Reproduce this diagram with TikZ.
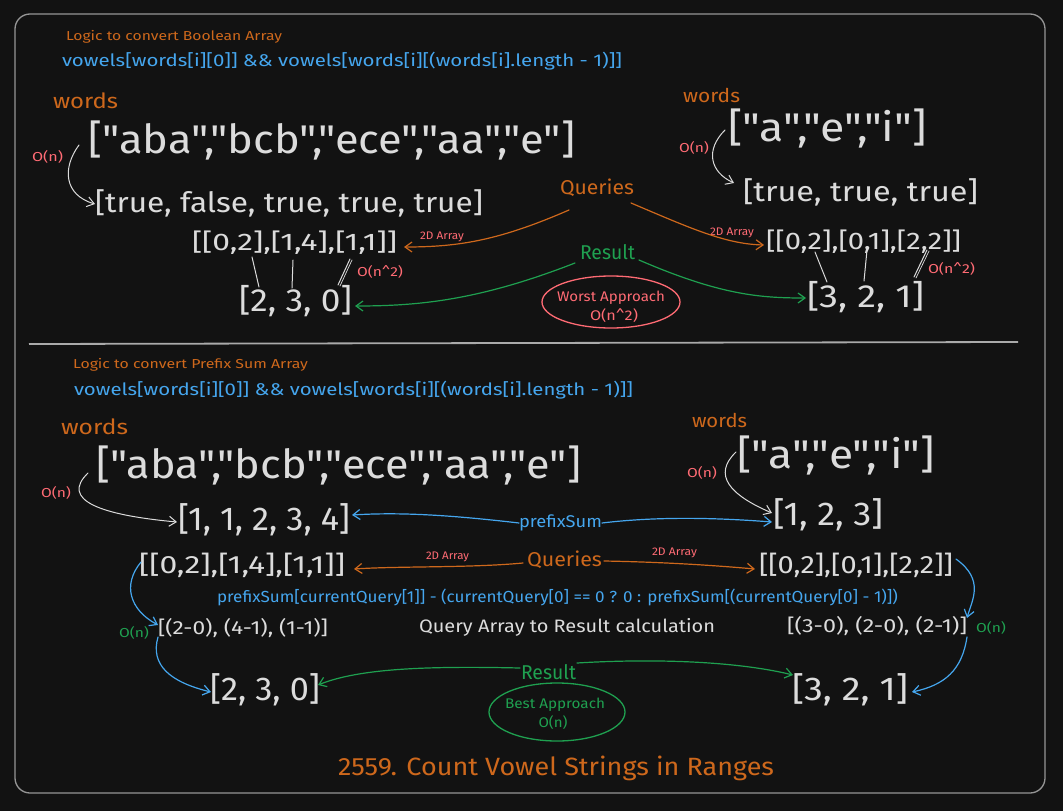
\documentclass[tikz,border=0pt]{standalone}
\usepackage{fontspec}
\setmainfont{Fira Sans}
\newfontfamily\hf{Fira Sans}
\usetikzlibrary{arrows.meta,calc,shapes.geometric}
\definecolor{bg}{HTML}{121212}
\definecolor{wt}{HTML}{DCDCDC}
\definecolor{org}{HTML}{CE681C}
\definecolor{blu}{HTML}{45A6EE}
\definecolor{grn}{HTML}{1FA050}
\definecolor{pnk}{HTML}{FF6B74}
\definecolor{frm}{HTML}{959595}
\newcommand\ftext[3]{\resizebox{#2pt}{\height}{\hf\fontsize{#1}{#1}\selectfont #3}}
\tikzset{
  lbl/.style={inner sep=0pt, outer sep=0pt, anchor=west},
  wtx/.style={lbl, text=wt},
  otx/.style={lbl, text=org},
  btx/.style={lbl, text=blu},
  gtx/.style={lbl, text=grn},
  ptx/.style={lbl, text=pnk},
  arr/.style={-{Straight Barb[length=7pt,width=10pt]}, line width=1.2pt, line cap=round},
  maplink/.style={draw=wt, line width=1pt, line cap=round},
}
\begin{document}
\begin{tikzpicture}[x=1pt,y=-1pt]
\fill[bg] (0,0) rectangle (1063,811);
\useasboundingbox (0,0) rectangle (1063,811);
% frame and divider
\draw[frm, line width=1.3pt, rounded corners=15pt] (15,14) rectangle (1045,793);
\coordinate (divL) at (29,344);
\coordinate (divR) at (1018,342);
\draw[frm!80, line width=1.8pt] (divL) -- (divR);

% ---------- top half ----------
\node[otx] (logicA) at (66,37) {\ftext{13}{216}{Logic to convert Boolean Array}};
\node[btx] (vowA) at (62,61) {\ftext{17}{560}{vowels[words[i][0]] \&\& vowels[words[i][(words[i].length - 1)]]}};
\node[otx] (wordsA) at (53,101) {\ftext{21}{65}{words}};
\node[wtx] (arrA) at (88,140) {\ftext{40}{487}{["aba","bcb","ece","aa","e"]}};
\node[ptx] (onA) at (32,157) {\ftext{13}{31}{O(n)}};
\node[wtx] (tfA) at (95,203) {\ftext{28}{388}{[true, false, true, true, true]}};
\node[otx] (queA) at (560,188) {\ftext{20}{74}{Queries}};
\node[wtx] (qlA) at (192,243) {\ftext{24}{205}{[[0,2],[1,4],[1,1]]}};
\node[ptx] (daA) at (420,237) {\ftext{11}{44}{2D Array}};
\node[gtx] (resA) at (580,252) {\ftext{20}{55}{Result}};
\node[wtx] (rA) at (239,301) {\ftext{32}{113}{[2, 3, 0]}};
\node[ptx] (onsqA) at (357,272) {\ftext{13}{46}{O(n\textasciicircum 2)}};
\node[draw=pnk, line width=1.3pt, ellipse, minimum width=138pt, minimum height=52pt, inner sep=0pt] (worst) at (611,302) {};
\node[text=pnk, inner sep=0pt] (worstA) at (611,298) {\ftext{14}{108}{Worst Approach}};
\node[text=pnk, inner sep=0pt] (worstB) at (614,316) {\ftext{14}{48}{O(n\textasciicircum 2)}};

\node[otx] (wordsB) at (683,95) {\ftext{19}{57}{words}};
\node[wtx] (arrB) at (728,128) {\ftext{40}{199}{["a","e","i"]}};
\node[ptx] (onB) at (679,148) {\ftext{13}{30}{O(n)}};
\node[wtx] (tfB) at (743,192) {\ftext{28}{235}{[true, true, true]}};
\node[ptx] (daB) at (710,233) {\ftext{11}{44}{2D Array}};
\node[wtx] (qlB) at (766,242) {\ftext{24}{195}{[[0,2],[0,1],[2,2]]}};
\node[ptx] (onsqB) at (928,269) {\ftext{13}{47}{O(n\textasciicircum 2)}};
\node[wtx] (rB) at (807,297) {\ftext{32}{117}{[3, 2, 1]}};

% top connectors
\coordinate (sA) at (79,145);
\draw[arr, wt, line width=1pt] (sA) .. controls (62,168) and (64,195) .. ($(tfA.west)+(0,1)$);
\coordinate (sB) at (725,130);
\draw[arr, wt, line width=1pt] (sB) .. controls (705,150) and (710,172) .. ($(tfB.west)+(-9,-9)$);
\coordinate (qAl) at (569,210);
\draw[arr, org] (qAl) .. controls (500,240) and (460,247) .. ($(qlA.east)+(7,4)$);
\coordinate (qAr) at (631,203);
\draw[arr, org] (qAr) .. controls (690,228) and (725,244) .. ($(qlB.west)+(-2,3)$);
\coordinate (rAl) at (575,263);
\draw[arr, grn] (rAl) .. controls (480,300) and (420,306) .. ($(rA.east)+(3,5)$);
\coordinate (rAr) at (639,260);
\draw[arr, grn] (rAr) .. controls (720,295) and (760,298) .. ($(rB.west)+(-1,1)$);
% mapping lines top
\coordinate (m1a) at (252,257); \coordinate (m1b) at (259,287);
\coordinate (m2a) at (293,260); \coordinate (m2b) at (292,288);
\coordinate (m3a) at (350,259); \coordinate (m3b) at (338,285);
\draw[maplink] (m1a) -- (m1b);
\draw[maplink] (m2a) -- (m2b);
\draw[maplink] (m3a) -- (m3b);
\draw[maplink, line width=0.7pt] ($(m3a)+(2,1)$) -- ($(m3b)+(2,1)$);
\coordinate (m4a) at (815,252); \coordinate (m4b) at (827,282);
\coordinate (m5a) at (867,250); \coordinate (m5b) at (864,281);
\coordinate (m6a) at (927,250); \coordinate (m6b) at (914,277);
\draw[maplink] (m4a) -- (m4b);
\draw[maplink] (m5a) -- (m5b);
\draw[maplink] (m6a) -- (m6b);
\draw[maplink, line width=0.7pt] ($(m6a)+(2,1)$) -- ($(m6b)+(2,1)$);

% ---------- bottom half ----------
\node[otx] (logicB) at (73,365) {\ftext{13}{235}{Logic to convert Prefix Sum Array}};
\node[btx] (vowB) at (74,390) {\ftext{17}{559}{vowels[words[i][0]] \&\& vowels[words[i][(words[i].length - 1)]]}};
\node[otx] (wordsC) at (61,427) {\ftext{21}{67}{words}};
\node[wtx] (arrC) at (96,465) {\ftext{40}{485}{["aba","bcb","ece","aa","e"]}};
\node[ptx] (onC) at (41,493) {\ftext{13}{30}{O(n)}};
\node[wtx] (psA) at (178,520) {\ftext{33}{172}{[1, 1, 2, 3, 4]}};
\node[btx] (psl) at (519,523) {\ftext{17}{83}{prefixSum}};
\node[otx] (wordsD) at (692,420) {\ftext{19}{55}{words}};
\node[wtx] (arrD) at (737,455) {\ftext{40}{198}{["a","e","i"]}};
\node[ptx] (onD) at (687,473) {\ftext{13}{30}{O(n)}};
\node[wtx] (psB) at (773,515) {\ftext{33}{110}{[1, 2, 3]}};
\node[wtx] (qlC) at (139,565) {\ftext{25}{206}{[[0,2],[1,4],[1,1]]}};
\node[ptx] (daC) at (426,557) {\ftext{11}{43}{2D Array}};
\node[otx] (queB) at (527,560) {\ftext{20}{75}{Queries}};
\node[ptx] (daD) at (652,553) {\ftext{11}{45}{2D Array}};
\node[wtx] (qlD) at (759,565) {\ftext{25}{194}{[[0,2],[0,1],[2,2]]}};
\node[btx] (formula) at (217,597) {\ftext{16}{681}{prefixSum[currentQuery[1]] - (currentQuery[0] == 0 ? 0 : prefixSum[(currentQuery[0] - 1)])}};
\node[wtx] (calcA) at (158,628) {\ftext{19}{170}{[(2-0), (4-1), (1-1)]}};
\node[gtx] (onE) at (119,633) {\ftext{13}{30}{O(n)}};
\node[wtx] (qtext) at (419,627) {\ftext{18}{296}{Query Array to Result calculation}};
\node[wtx] (calcB) at (787,626) {\ftext{19}{180}{[(3-0), (2-0), (2-1)]}};
\node[gtx] (onF) at (976,628) {\ftext{13}{30}{O(n)}};
\node[gtx] (resB) at (521,672) {\ftext{20}{55}{Result}};
\node[wtx] (rC) at (210,690) {\ftext{33}{110}{[2, 3, 0]}};
\node[wtx] (rD) at (792,690) {\ftext{33}{116}{[3, 2, 1]}};
\node[draw=grn, line width=1.3pt, ellipse, minimum width=136pt, minimum height=58pt, inner sep=0pt] (best) at (557,712) {};
\node[text=grn, inner sep=0pt] (bestA) at (555,705) {\ftext{14}{100}{Best Approach}};
\node[text=grn, inner sep=0pt] (bestB) at (553,723) {\ftext{14}{29}{O(n)}};
\node[otx] (title) at (338,768) {\ftext{25}{436}{2559. Count Vowel Strings in Ranges}};

% bottom connectors
\coordinate (sC) at (88,473);
\draw[arr, wt, line width=1pt] (sC) .. controls (60,500) and (100,515) .. ($(psA.west)+(-1,2)$);
\coordinate (sD) at (736,452);
\draw[arr, wt, line width=1pt] (sD) .. controls (712,475) and (730,495) .. ($(psB.west)+(-1,-2)$);
\draw[arr, blu] (psl.west) .. controls (450,515) and (400,512) .. ($(psA.east)+(2,-5)$);
\draw[arr, blu] (psl.east) .. controls (660,516) and (720,518) .. ($(psB.west)+(-1,7)$);
\draw[arr, org] ($(queB.west)+(-4,3)$) .. controls (470,568) and (400,566) .. ($(qlC.east)+(9,4)$);
\draw[arr, org] ($(queB.east)+(2,1)$) .. controls (660,562) and (710,565) .. ($(qlD.west)+(-4,4)$);
\coordinate (bl1) at (141,562);
\draw[arr, blu] (bl1) .. controls (122,585) and (130,610) .. ($(calcA.west)+(0,-3)$);
\coordinate (bl2) at (158,637);
\draw[arr, blu] (bl2) .. controls (150,665) and (170,682) .. ($(rC.west)+(1,2)$);
\coordinate (br1) at (956,559);
\draw[arr, blu] (br1) .. controls (985,580) and (972,600) .. ($(calcB.east)+(0,-8)$);
\coordinate (br2) at (967,637);
\draw[arr, blu] (br2) .. controls (962,670) and (945,685) .. ($(rD.east)+(4,2)$);
\draw[arr, grn] ($(resB.west)+(-1,-4)$) .. controls (430,666) and (360,668) .. ($(rC.east)+(-2,-5)$);
\draw[arr, grn] ($(resB.east)+(1,-9)$) .. controls (660,658) and (740,662) .. ($(rD.west)+(1,-15)$);
\end{tikzpicture}
\end{document}
